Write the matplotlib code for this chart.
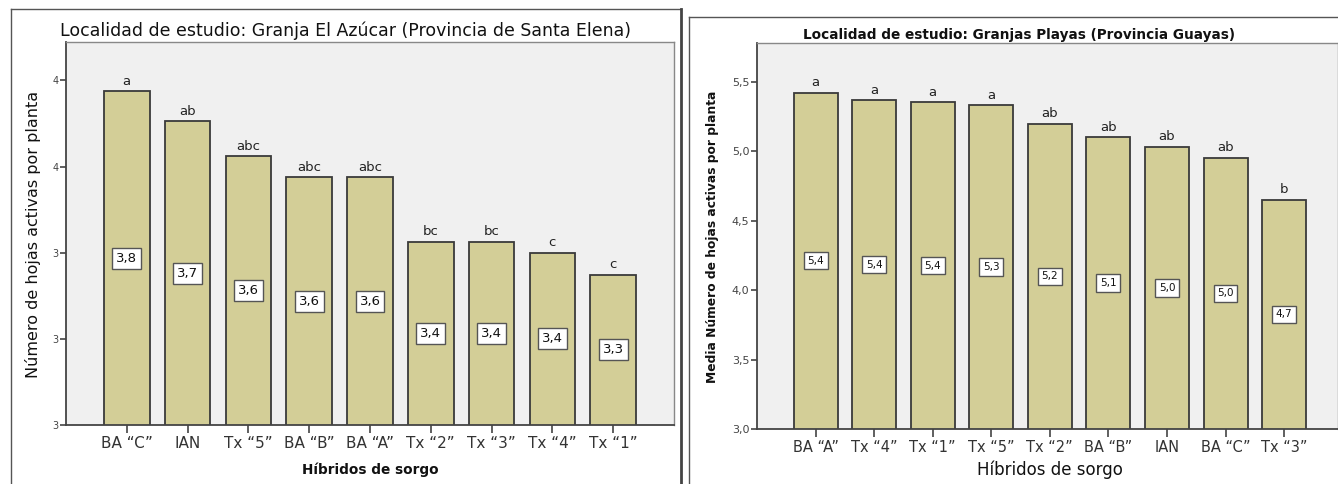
import matplotlib
matplotlib.use("Agg")
import matplotlib.pyplot as plt
from matplotlib.lines import Line2D
from matplotlib.ticker import FuncFormatter
import numpy as np

W, H = 1338, 484

# datos - Granja El Azucar
left_cats = ['BA “C”', 'IAN', 'Tx “5”', 'BA “B”', 'BA “A”', 'Tx “2”', 'Tx “3”', 'Tx “4”', 'Tx “1”']
left_vals = [3.775, 3.705, 3.624, 3.575, 3.575, 3.425, 3.425, 3.400, 3.349]
left_letters = ['a', 'ab', 'abc', 'abc', 'abc', 'bc', 'bc', 'c', 'c']
left_yticks = [3.0, 3.2, 3.4, 3.6, 3.8]

# datos - Granjas Playas
right_cats = ['BA “A”', 'Tx “4”', 'Tx “1”', 'Tx “5”', 'Tx “2”', 'BA “B”', 'IAN', 'BA “C”', 'Tx “3”']
right_vals = [5.423, 5.368, 5.352, 5.332, 5.200, 5.102, 5.032, 4.952, 4.652]
right_letters = ['a', 'a', 'a', 'a', 'ab', 'ab', 'ab', 'ab', 'b']
right_yticks = [3.0, 3.5, 4.0, 4.5, 5.0, 5.5]

BAR = '#D3CE97'
BG = '#F0F0F0'


def fx(px):
    return px / W


def fy(py):
    return 1 - py / H


fig = plt.figure(figsize=(W / 100, H / 100), dpi=100)

# marcos de cada panel
frame_kw = dict(transform=fig.transFigure, color='#555555', lw=1.0)
fig.add_artist(Line2D([fx(11), fx(681)], [fy(9), fy(9)], **frame_kw))
fig.add_artist(Line2D([fx(11), fx(11)], [fy(9), fy(484)], **frame_kw))
fig.add_artist(Line2D([fx(681), fx(681)], [fy(9), fy(484)], transform=fig.transFigure, color='#444444', lw=2.0))
fig.add_artist(Line2D([fx(689), fx(1338)], [fy(17), fy(17)], **frame_kw))
fig.add_artist(Line2D([fx(689), fx(689)], [fy(17), fy(484)], **frame_kw))


def panel(rect, cats, vals, letters, yticks, ylim, xlim, fmt, tick_fs, ytick_fs,
          box_fs, box_pad):
    ax = fig.add_axes(rect)
    ax.set_facecolor(BG)
    x = np.arange(len(cats))
    ax.bar(x, vals, width=0.75, color=BAR, edgecolor='#3a3a3a', linewidth=1.3, zorder=2)
    ax.set_xlim(*xlim)
    ax.set_ylim(*ylim)
    ax.set_xticks(x)
    ax.set_xticklabels(cats, fontsize=tick_fs, color='#333333')
    ax.set_yticks(yticks)
    ax.yaxis.set_major_formatter(FuncFormatter(fmt))
    ax.tick_params(axis='x', direction='out', length=6, width=1.2, color='#444444', pad=2)
    ax.tick_params(axis='y', direction='out', length=4.5, width=1.2, color='#444444',
                   labelsize=ytick_fs, labelcolor='#444444', pad=1)
    for s in ['left', 'bottom']:
        ax.spines[s].set_color('#444444')
        ax.spines[s].set_linewidth(1.3)
    for s in ['top', 'right']:
        ax.spines[s].set_color('#888888')
        ax.spines[s].set_linewidth(1.0)
    for xi, v, let in zip(x, vals, letters):
        ax.annotate(let, (xi, v), xytext=(0, 2.5), textcoords='offset points',
                    ha='center', va='bottom', fontsize=9.5, color='#222222')
        ax.text(xi, (ylim[0] + v) / 2, f"{v:.1f}".replace('.', ','), ha='center', va='center',
                fontsize=box_fs, color='#111111', zorder=3,
                bbox=dict(boxstyle=f'square,pad={box_pad}', fc='white', ec='#555555', lw=1.0))
    return ax


panel([fx(66), fy(425), fx(674) - fx(66), fy(42) - fy(425)],
      left_cats, left_vals, left_letters, left_yticks, (3.0, 3.889), (-1.0, 9.0),
      lambda v, p: f"{v:.0f}", 11, 7, 9.5, 0.3)

panel([fx(757), fy(429), fx(1338) - fx(757), fy(43) - fy(429)],
      right_cats, right_vals, right_letters, right_yticks, (3.0, 5.78), (-1.0, 8.92),
      lambda v, p: f"{v:.1f}".replace('.', ','), 10.5, 8, 7.5, 0.35)

# titulos y ejes
fig.text(fx(345), fy(31), 'Localidad de estudio: Granja El Azúcar (Provincia de Santa Elena)',
         ha='center', va='center', fontsize=12.5, color='#111111')
fig.text(fx(1019), fy(35), 'Localidad de estudio: Granjas Playas (Provincia Guayas)',
         ha='center', va='center', fontsize=9.8, fontweight='bold', color='#111111')
fig.text(fx(33), fy(234), 'Número de hojas activas por planta', rotation=90,
         ha='center', va='center', fontsize=11.5, color='#111111')
fig.text(fx(713), fy(237), 'Media Número de hojas activas por planta', rotation=90,
         ha='center', va='center', fontsize=8.8, fontweight='bold', color='#111111')
fig.text(fx(370), fy(470), 'Híbridos de sorgo', ha='center', va='center',
         fontsize=9.8, fontweight='bold', color='#111111')
fig.text(fx(1050), fy(470), 'Híbridos de sorgo', ha='center', va='center',
         fontsize=12, color='#111111')

fig.savefig('out.png', dpi=100)
